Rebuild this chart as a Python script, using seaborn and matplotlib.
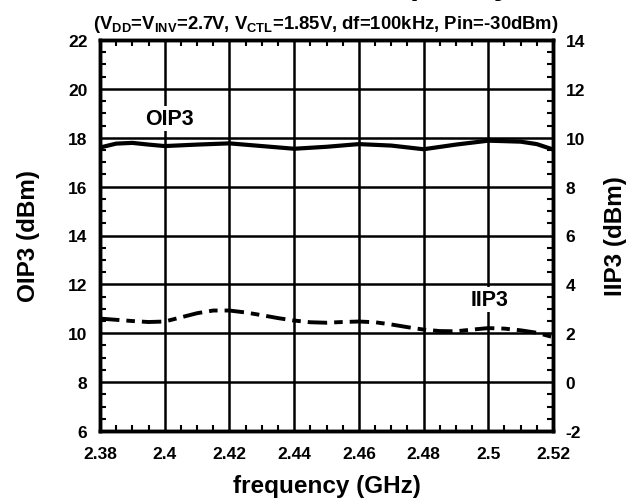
import matplotlib
matplotlib.use("Agg")
import matplotlib.pyplot as plt
from matplotlib.ticker import MultipleLocator
import seaborn as sns
import pandas as pd

# ---- data ----
freq_oip3 = [2.38, 2.385, 2.39, 2.395, 2.40, 2.41, 2.42, 2.43, 2.44, 2.45,
             2.46, 2.47, 2.48, 2.49, 2.50, 2.51, 2.515, 2.52]
oip3 = [17.60, 17.76, 17.79, 17.72, 17.66, 17.72, 17.77, 17.66, 17.55, 17.63,
        17.74, 17.68, 17.53, 17.72, 17.88, 17.84, 17.74, 17.52]

freq_iip3 = [2.38, 2.385, 2.39, 2.395, 2.40, 2.405, 2.41, 2.415, 2.42, 2.425,
             2.43, 2.435, 2.44, 2.445, 2.45, 2.455, 2.46, 2.465, 2.47, 2.475,
             2.48, 2.485, 2.49, 2.495, 2.50, 2.505, 2.51, 2.515, 2.52]
iip3 = [2.60, 2.55, 2.50, 2.46, 2.48, 2.65, 2.82, 2.93, 2.93, 2.85,
        2.74, 2.62, 2.52, 2.45, 2.43, 2.46, 2.48, 2.45, 2.36, 2.25,
        2.15, 2.09, 2.08, 2.15, 2.21, 2.19, 2.12, 2.02, 1.84]

x_ticks = [2.38, 2.40, 2.42, 2.44, 2.46, 2.48, 2.50, 2.52]
x_ticklabels = ["2.38", "2.4", "2.42", "2.44", "2.46", "2.48", "2.5", "2.52"]
left_ticks = [6, 8, 10, 12, 14, 16, 18, 20, 22]
right_ticks = [-2, 0, 2, 4, 6, 8, 10, 12, 14]

title = "OIP3, IIP3 vs. frequency"
subtitle = r"(V$_{DD}$=V$_{INV}$=2.7V, V$_{CTL}$=1.85V, df=100kHz, Pin=-30dBm)"

# ---- styling ----
sns.set_style("white")
plt.rcParams["font.family"] = ["Liberation Sans", "DejaVu Sans"]
plt.rcParams["font.weight"] = "bold"
plt.rcParams["text.color"] = "black"
plt.rcParams["axes.labelcolor"] = "black"
plt.rcParams["xtick.color"] = "black"
plt.rcParams["ytick.color"] = "black"
plt.rcParams["axes.unicode_minus"] = False
plt.rcParams["mathtext.fontset"] = "custom"
plt.rcParams["mathtext.rm"] = "Liberation Sans:bold"
plt.rcParams["mathtext.it"] = "Liberation Sans:bold"
plt.rcParams["mathtext.bf"] = "Liberation Sans:bold"
plt.rcParams["mathtext.default"] = "regular"

fig = plt.figure(figsize=(6.44, 5.02), dpi=100)
ax = fig.add_axes([100 / 644, 1 - 432 / 502, 453 / 644, 391 / 502])

df_o = pd.DataFrame({"freq": freq_oip3, "OIP3": oip3})
df_i = pd.DataFrame({"freq": freq_iip3, "IIP3": iip3})

sns.lineplot(data=df_o, x="freq", y="OIP3", ax=ax, color="black", linewidth=3.0, zorder=3)
ax.set_xlim(2.38, 2.52)
ax.set_ylim(6, 22)

ax2 = ax.twinx()
sns.lineplot(data=df_i, x="freq", y="IIP3", ax=ax2, color="black", linewidth=2.8, zorder=3)
ax2.lines[0].set_dashes([5, 1.8, 2.2, 1.8])
ax2.set_ylim(-2, 14)
ax2.set_xlim(2.38, 2.52)

# ticks
ax.set_xticks(x_ticks)
ax.set_xticklabels(x_ticklabels)
ax.set_yticks(left_ticks)
ax2.set_yticks(right_ticks)
ax.xaxis.set_minor_locator(MultipleLocator(0.005))
ax.yaxis.set_minor_locator(MultipleLocator(0.5))
ax2.yaxis.set_minor_locator(MultipleLocator(0.5))

ax.tick_params(axis="x", which="both", direction="in", top=True, bottom=True, labelsize=12.5, pad=11)
ax.tick_params(axis="y", which="both", direction="in", left=True, right=False, labelsize=12.5, pad=9)
ax2.tick_params(axis="y", which="both", direction="in", right=True, left=False, labelsize=12.5, pad=9)
for a in (ax, ax2):
    a.tick_params(which="minor", length=4, width=1.5)
    a.tick_params(which="major", length=0, width=0)
for lab in ax.get_xticklabels() + ax.get_yticklabels() + ax2.get_yticklabels():
    lab.set_fontweight("bold")

ax.grid(True, which="major", color="black", linewidth=1.8)
ax.set_axisbelow(True)
for a in (ax, ax2):
    for s in a.spines.values():
        s.set_visible(True)
        s.set_linewidth(2.5)
        s.set_color("black")

ax.set_xlabel("frequency (GHz)", fontsize=17.5, fontweight="bold", labelpad=9)
ax.set_ylabel("OIP3 (dBm)", fontsize=17.5, fontweight="bold", labelpad=20)
ax2.set_ylabel("IIP3 (dBm)", fontsize=17.5, fontweight="bold", labelpad=14, rotation=90)

box = dict(facecolor="white", edgecolor="none", pad=1.5)
ax.text(2.4015, 18.35, "OIP3", fontsize=15.5, fontweight="bold", ha="center", va="bottom",
        bbox=box, zorder=4)
ax2.text(2.5005, 2.95, "IIP3", fontsize=15.5, fontweight="bold", ha="center", va="bottom",
         bbox=box, zorder=4)

fig.text(330 / 644, 1.011, title, fontsize=23, fontweight="bold", ha="center", va="baseline")
fig.text(326 / 644, 1 - 29 / 502, subtitle, fontsize=13.3, fontweight="bold", ha="center", va="baseline")

fig.savefig("out.png", dpi=100)
